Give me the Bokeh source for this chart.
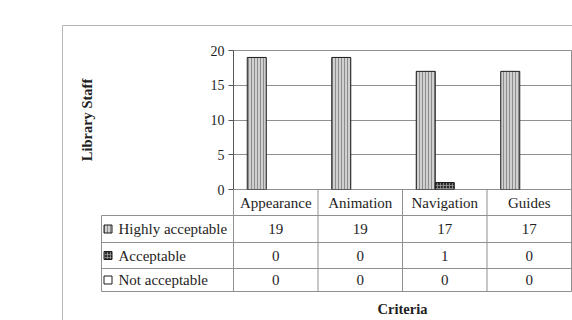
from bokeh.plotting import figure
from bokeh.models import FactorRange, Range1d, FixedTicker, ColumnDataSource
from bokeh.transform import dodge
from bokeh.core.properties import value
from bokeh.embed import file_html
from bokeh.resources import INLINE

# ---------------- data ----------------
categories = ["Appearance", "Animation", "Navigation", "Guides"]
series_names = ["Highly acceptable", "Acceptable", "Not acceptable"]
highly_acceptable = [19, 19, 17, 17]
acceptable = [0, 0, 1, 0]
not_acceptable = [0, 0, 0, 0]
y_ticks = [0, 5, 10, 15, 20]
y_title = "Library Staff"
x_title = "Criteria"

series_values = [highly_acceptable, acceptable, not_acceptable]

# ---------------- layout (screen px) ----------------
W, H = 572, 320
L, R, T, B = 233, 571, 50, 189          # plot frame
TABLE_LEFT = 101
ROWS = [189, 215, 242, 268, 291]         # table row boundaries
OUTER_L, OUTER_T = 62, 25
TITLE_Y = 308
FONT = "Liberation Serif"
LINE = "#8f8f8f"
TXT = "#1e1e1e"
TABLE_FS = "15px"

sx = (R - L) / len(categories)
sy = (B - T) / (y_ticks[-1] - y_ticks[0])


def xd(px):
    return (px - L) / sx


def yd(py):
    return (B - py) / sy


p = figure(width=W, height=H,
           x_range=FactorRange(*categories),
           y_range=Range1d(y_ticks[0], y_ticks[-1]),
           output_backend="svg", toolbar_location=None,
           min_border_left=L, min_border_right=W - R,
           min_border_top=T, min_border_bottom=H - B)
p.background_fill_color = "white"
p.border_fill_color = "white"
p.outline_line_color = LINE
p.outline_line_width = 1

# ---------------- bars ----------------
bar_w = 19 / sx
styles = [
    dict(fill_color="#d0d0d0", hatch_pattern="vertical_line", hatch_color="#7c7c7c",
         hatch_scale=3, hatch_weight=0.8),
    dict(fill_color="#2e2e2e", hatch_pattern="cross", hatch_color="#9a9a9a",
         hatch_scale=3, hatch_weight=0.8),
    dict(fill_color="white"),
]
offsets = [-bar_w, 0.0, bar_w]
for name, vals, st, off in zip(series_names, series_values, styles, offsets):
    src = ColumnDataSource(dict(cat=categories, v=vals,
                                la=[1.0 if v > 0 else 0.0 for v in vals]))
    p.vbar(x=dodge("cat", off, range=p.x_range), top="v", bottom=0, width=bar_w,
           source=src, line_color="#1a1a1a", line_width=1, line_alpha="la", **st)

# ---------------- axes & grid ----------------
p.yaxis.ticker = FixedTicker(ticks=y_ticks)
p.yaxis.major_tick_out = 5
p.yaxis.major_tick_in = 0
p.yaxis.minor_tick_line_color = None
p.yaxis.axis_line_color = "#555555"
p.yaxis.major_tick_line_color = "#555555"
p.yaxis.major_label_text_font = FONT
p.yaxis.major_label_text_font_size = "14px"
p.yaxis.major_label_text_color = TXT
p.yaxis.major_label_standoff = 4
p.yaxis.axis_label = y_title
p.yaxis.axis_label_text_font = FONT
p.yaxis.axis_label_text_font_style = "bold"
p.yaxis.axis_label_text_font_size = "14.5px"
p.yaxis.axis_label_text_color = TXT
p.yaxis.axis_label_standoff = 113

p.ygrid.ticker = FixedTicker(ticks=y_ticks)
p.ygrid.grid_line_color = LINE
p.xgrid.grid_line_color = None
p.xaxis.visible = False

# ---------------- data table below the chart ----------------
n = len(categories)
x0s, y0s, x1s, y1s = [], [], [], []
for r in ROWS[1:]:
    x0s.append(xd(TABLE_LEFT)); x1s.append(n); y0s.append(yd(r)); y1s.append(yd(r))
x0s.append(xd(TABLE_LEFT)); x1s.append(xd(TABLE_LEFT)); y0s.append(yd(ROWS[1])); y1s.append(yd(ROWS[-1]))
for i in range(n + 1):
    x0s.append(i); x1s.append(i); y0s.append(yd(ROWS[0])); y1s.append(yd(ROWS[-1]))
tbl = p.segment(x0=x0s, y0=y0s, x1=x1s, y1=y1s, line_color=LINE, line_width=1)
tbl.level = "overlay"

# outer chart border
ob = p.segment(x0=[xd(OUTER_L), xd(OUTER_L)], y0=[yd(OUTER_T), yd(OUTER_T)],
               x1=[xd(W), xd(OUTER_L)], y1=[yd(OUTER_T), yd(H)],
               line_color="#b5b5b5", line_width=1)
ob.level = "overlay"

# header row with categories
hdr = p.text(x=categories, y=[yd((ROWS[0] + ROWS[1]) / 2)] * n, text=categories,
             text_font=value(FONT), text_font_size=TABLE_FS, text_color=TXT,
             text_align="center", text_baseline="middle")
hdr.level = "overlay"

# value rows
for k, vals in enumerate(series_values):
    yc = yd((ROWS[k + 1] + ROWS[k + 2]) / 2)
    t = p.text(x=categories, y=[yc] * n, text=[str(v) for v in vals],
               text_font=value(FONT), text_font_size=TABLE_FS, text_color=TXT,
               text_align="center", text_baseline="middle")
    t.level = "overlay"
    sw = p.rect(x=[xd(TABLE_LEFT + 6.5)], y=[yc], width=8, height=8,
                width_units="screen", height_units="screen",
                line_color="#1a1a1a", line_width=1, **styles[k])
    sw.level = "overlay"
    lb = p.text(x=[xd(TABLE_LEFT + 17)], y=[yc], text=[series_names[k]],
                text_font=value(FONT), text_font_size=TABLE_FS, text_color=TXT,
                text_align="left", text_baseline="middle")
    lb.level = "overlay"

# x-axis title centred under the plot frame
xt = p.text(x=[n / 2], y=[yd(TITLE_Y)], text=[x_title],
            text_font=value(FONT), text_font_size="14.5px", text_font_style="bold",
            text_color=TXT, text_align="center", text_baseline="middle")
xt.level = "overlay"

open("out.html", "w").write(file_html(p, INLINE))
